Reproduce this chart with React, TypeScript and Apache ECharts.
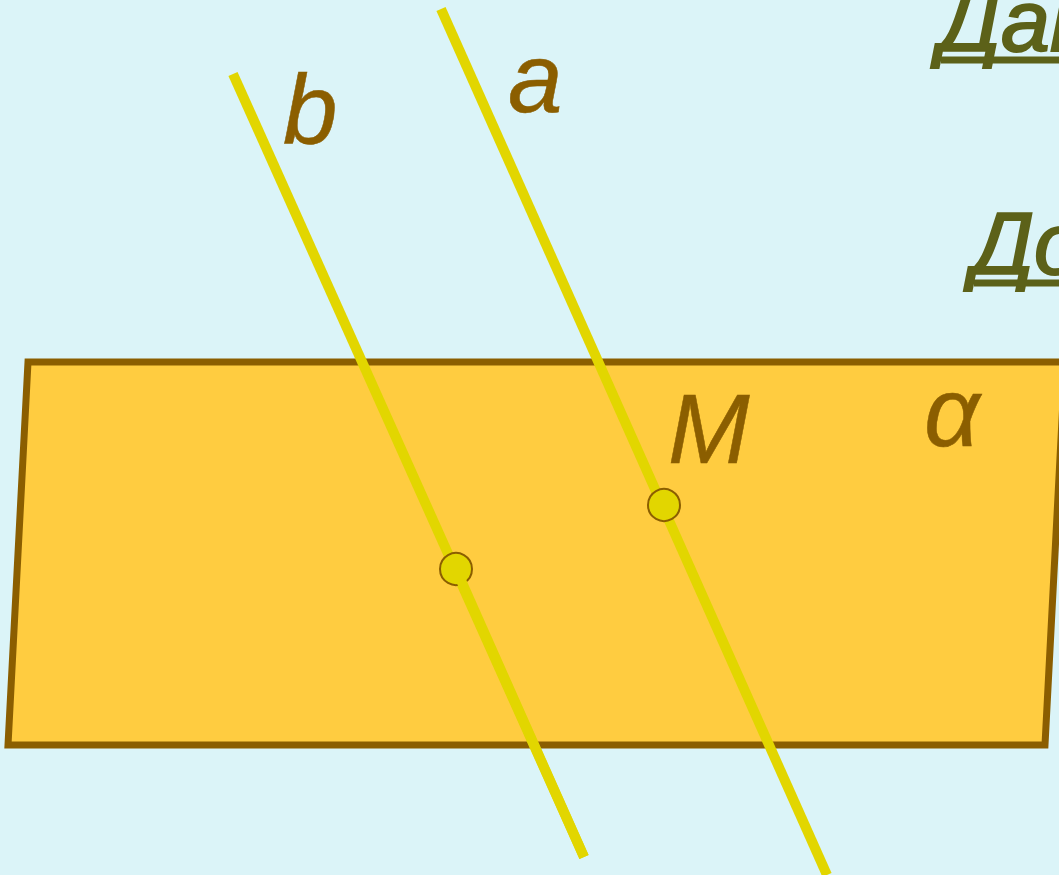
import React, { useEffect, useRef } from "react";
import * as echarts from "echarts";

// Geometry of the diagram (pixel space of the 1059x875 picture, y downward)
const planeCorners: number[][] = [
  [28, 362],
  [1065, 362],
  [1045, 745],
  [8, 745],
];
const lineA: number[][] = [
  [441, 9],
  [827, 875],
];
const lineB: number[][] = [
  [233, 74],
  [584, 857],
];
const pointM: number[] = [664, 505];
const pointB: number[] = [456, 569];

// Labels: text, left x, baseline y
const labelTexts: string[] = ["b", "a", "M", "α"];
const labelPos: number[][] = [
  [283, 143],
  [508, 112],
  [668, 463],
  [924, 446],
];
const headerTexts: string[] = ["Дано:", "Доказать:"];
const headerPos: number[][] = [
  [939, 51],
  [972, 274],
];

const BG = "#DBF4F8";
const PLANE_FILL = "#FFCC40";
const BROWN = "#8B5E00";
const YELLOW = "#E2D600";
const OLIVE = "#5C6119";
const FONT = "'Liberation Sans', Arial, sans-serif";

export default function App() {
  const ref = useRef<HTMLDivElement>(null);
  useEffect(() => {
    document.body.style.margin = "0";
    if (!ref.current) return;
    const chart = echarts.init(ref.current, undefined, { renderer: "svg" });

    const textItem = (
      api: any,
      text: string,
      pos: number[],
      size: number,
      color: string,
      strokeW: number
    ) => {
      const c = api.coord(pos);
      return {
        type: "text",
        x: c[0],
        y: c[1] - 0.3465 * size,
        style: {
          text,
          fill: color,
          stroke: strokeW > 0 ? color : undefined,
          lineWidth: strokeW,
          font: `italic ${size}px ${FONT}`,
          align: "left",
          verticalAlign: "middle",
        },
      };
    };

    chart.setOption({
      animation: false,
      backgroundColor: BG,
      grid: { left: 0, right: 0, top: 0, bottom: 0 },
      xAxis: { type: "value", min: 0, max: 1059, show: false },
      yAxis: { type: "value", min: 0, max: 875, inverse: true, show: false },
      series: [
        {
          type: "custom",
          z: 1,
          clip: false,
          data: [0],
          renderItem: (_p: any, api: any) => ({
            type: "polygon",
            shape: { points: planeCorners.map((p) => api.coord(p)) },
            style: { fill: PLANE_FILL, stroke: BROWN, lineWidth: 7, lineJoin: "miter" },
          }),
        },
        {
          type: "line",
          z: 2,
          data: lineA,
          symbol: "none",
          clip: false,
          lineStyle: { color: YELLOW, width: 10, cap: "butt" },
        },
        {
          type: "line",
          z: 2,
          data: lineB,
          symbol: "none",
          clip: false,
          lineStyle: { color: YELLOW, width: 10, cap: "butt" },
        },
        {
          type: "scatter",
          z: 3,
          data: [pointM, pointB],
          symbol: "circle",
          symbolSize: 32,
          itemStyle: { color: YELLOW, borderColor: BROWN, borderWidth: 2, opacity: 1 },
        },
        {
          type: "line",
          z: 4,
          data: [pointB, lineB[1]],
          symbol: "none",
          clip: false,
          lineStyle: { color: YELLOW, width: 10, cap: "butt" },
        },
        {
          type: "custom",
          z: 5,
          clip: false,
          data: labelTexts.map((_t, i) => i),
          renderItem: (p: any, api: any) =>
            textItem(api, labelTexts[p.dataIndex], labelPos[p.dataIndex], 98, BROWN, 0.5),
        },
        {
          type: "custom",
          z: 5,
          clip: false,
          data: headerTexts.map((_t, i) => i),
          renderItem: (p: any, api: any) => {
            const pos = headerPos[p.dataIndex];
            const start = api.coord([pos[0] + 2, pos[1] + 9]);
            const end = api.coord([1059, pos[1] + 9]);
            return {
              type: "group",
              children: [
                textItem(api, headerTexts[p.dataIndex], pos, 88, OLIVE, 2),
                {
                  type: "line",
                  shape: { x1: start[0], y1: start[1], x2: end[0], y2: end[1] },
                  style: { stroke: OLIVE, lineWidth: 7 },
                },
              ],
            };
          },
        },
      ],
    });
    return () => chart.dispose();
  }, []);
  return <div ref={ref} style={{ width: 1059, height: 875 }} />;
}
